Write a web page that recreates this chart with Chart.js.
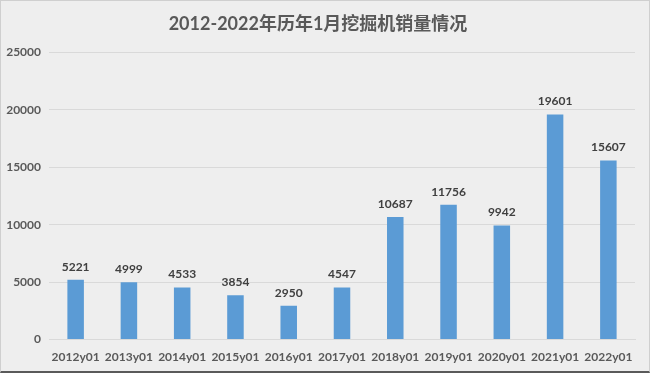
<!DOCTYPE html>
<html>
<head>
<meta charset="utf-8">
<script src="https://cdn.jsdelivr.net/npm/chart.js@4.4.1/dist/chart.umd.min.js"></script>
<style>
  html, body { margin: 0; padding: 0; background: #fff; }
  #box {
    width: 650px; height: 373px; box-sizing: border-box;
    background: #EEEEEE;
    border: 1px solid #cfcfcf;
    border-bottom: 2px solid #5a5a5a;
    position: relative;
  }
</style>
</head>
<body>
<div id="box"><canvas id="chart"></canvas></div>
<script>
const categories = ["2012y01", "2013y01", "2014y01", "2015y01", "2016y01", "2017y01",
  "2018y01", "2019y01", "2020y01", "2021y01", "2022y01"];
const sales = [5221, 4999, 4533, 3854, 2950, 4547, 10687, 11756, 9942, 19601, 15607];
const yTicks = [0, 5000, 10000, 15000, 20000, 25000];

const FONT = "Lato, 'Noto Sans CJK SC', sans-serif";

// simple value labels above each bar
const barLabels = {
  id: "barLabels",
  afterDatasetsDraw(chart) {
    const ctx = chart.ctx;
    const meta = chart.getDatasetMeta(0);
    ctx.save();
    ctx.font = "bold 12px " + FONT;
    ctx.fillStyle = "#404040";
    ctx.textAlign = "center";
    ctx.textBaseline = "bottom";
    meta.data.forEach((bar, i) => {
      ctx.fillText(String(sales[i]), bar.x, bar.y - 7);
    });
    ctx.restore();
  }
};

new Chart(document.getElementById("chart"), {
  type: "bar",
  data: {
    labels: categories,
    datasets: [{
      data: sales,
      backgroundColor: "#5B9BD5",
      barPercentage: 0.62,
      categoryPercentage: 0.5,
    }],
  },
  options: {
    responsive: true,
    maintainAspectRatio: false,
    animation: false,
    layout: { padding: { left: 0, right: 14, top: 0, bottom: 5 } },
    plugins: {
      legend: { display: false },
      tooltip: { enabled: false },
      title: {
        display: true,
        text: "2012-2022年历年1月挖掘机销量情况",
        color: "#595959",
        font: { family: FONT, size: 18, weight: "bold" },
        padding: { top: 12, bottom: 18 },
      },
    },
    scales: {
      x: {
        grid: { display: false },
        border: { display: true, color: "#D9D9D9" },
        ticks: {
          color: "#595959",
          font: { family: FONT, size: 12, weight: "bold" },
          maxRotation: 0,
          autoSkip: false,
          padding: 2,
        },
      },
      y: {
        min: 0,
        max: 25000,
        afterBuildTicks(scale) {
          scale.ticks = yTicks.map((v) => ({ value: v }));
        },
        afterFit(scale) {
          scale.width = 48;
        },
        grid: { color: "#D9D9D9", drawTicks: false },
        border: { display: false },
        ticks: {
          color: "#595959",
          font: { family: FONT, size: 12, weight: "bold" },
          padding: 8,
          callback: (v) => String(v),
        },
      },
    },
  },
  plugins: [barLabels],
});
</script>
</body>
</html>
